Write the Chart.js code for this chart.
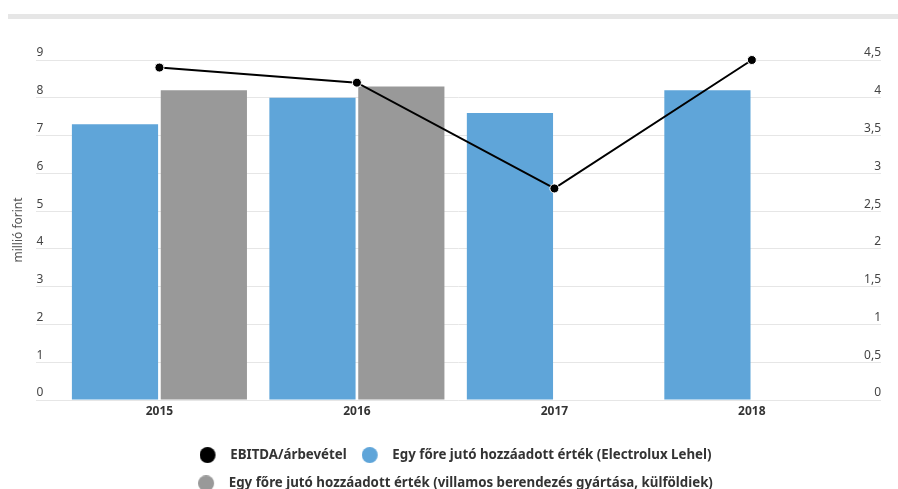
<!DOCTYPE html>
<html>
<head>
<meta charset="utf-8">
<script src="https://cdn.jsdelivr.net/npm/chart.js@4.4.1/dist/chart.umd.min.js"></script>
<style>
  html, body { margin: 0; padding: 0; background: #fff; }
  #wrap { position: relative; width: 898px; height: 489px; }
  #band { position: absolute; left: 8px; top: 14px; width: 890px; height: 5px; background: #e6e6e6; }
  canvas { position: absolute; left: 0; top: 0; }
</style>
</head>
<body>
<div id="wrap">
  <div id="band"></div>
  <canvas id="myChart" width="898" height="489"></canvas>
</div>
<script>
// data
const years = ['2015', '2016', '2017', '2018'];
const ebitdaRatio = [4.4, 4.2, 2.8, 4.5];
const electroluxValue = [7.3, 8.0, 7.6, 8.2];
const industryValue = [8.2, 8.3, null, null];

const colors = ['#000000', '#5fa5d9', '#999999'];

const toPoints = arr => arr.map((v, i) => ({ x: i, y: v }));
const comma = v => String(v).replace('.', ',');

// legend marker: circle on the left, empty room on the right
function legendIcon(color) {
    const c = document.createElement('canvas');
    c.width = 24;
    c.height = 16;
    const g = c.getContext('2d');
    g.fillStyle = color;
    g.beginPath();
    g.arc(8, 8, 8, 0, Math.PI * 2);
    g.fill();
    return c;
}
const icons = colors.map(legendIcon);

const data = {
    datasets: [
        {
            type: 'line',
            label: 'EBITDA/árbevétel',
            data: toPoints(ebitdaRatio),
            yAxisID: 'y1',
            borderColor: colors[0],
            backgroundColor: colors[0],
            borderWidth: 2,
            pointRadius: 4.5,
            pointBorderColor: '#fff',
            pointBorderWidth: 1,
            clip: false,
        },
        {
            label: 'Egy főre jutó hozzáadott érték (Electrolux Lehel)',
            data: toPoints(electroluxValue),
            yAxisID: 'y',
            backgroundColor: colors[1],
            borderWidth: 0,
        },
        {
            label: 'Egy főre jutó hozzáadott érték (villamos berendezés gyártása, külföldiek)',
            data: toPoints(industryValue),
            yAxisID: 'y',
            backgroundColor: colors[2],
            borderWidth: 0,
        },
    ]
}

const config = {
    type: 'bar',
    data,
    options: {
        responsive: false,
        animation: false,
        barPercentage: 0.97,
        categoryPercentage: 0.9,
        layout: {
            // negative right padding + wide right axis keeps the legend centred like the original
            padding: { top: 60, right: -9, left: 4, bottom: -11 }
        },
        plugins: {
            tooltip: { enabled: false },
            legend: {
                position: 'bottom',
                title: {
                    display: true,
                    text: '',
                    padding: { top: 1, bottom: 0 },
                    font: { size: 10, lineHeight: 1 },
                },
                labels: {
                    usePointStyle: true,
                    boxHeight: 13,
                    pointStyleWidth: 24,
                    padding: 15,
                    color: '#333',
                    font: { family: 'Noto Sans', size: 13.3, weight: 'bold' },
                    generateLabels: chart => Chart.defaults.plugins.legend.labels
                        .generateLabels(chart)
                        .map((item, i) => ({ ...item, pointStyle: icons[i] })),
                }
            },
        },
        scales: {
            x: {
                type: 'linear',
                offset: false,
                min: -0.623,
                max: 3.654,
                grid: { display: false, drawTicks: false, offset: false },
                border: { display: false },
                afterBuildTicks: scale => {
                    scale.ticks = years.map((_, i) => ({ value: i }));
                },
                ticks: {
                    padding: 4,
                    color: '#333',
                    font: { family: 'Noto Sans', size: 12, weight: 'bold' },
                    callback: v => years[v],
                },
            },
            y: {
                position: 'left',
                min: 0,
                max: 9,
                grid: { color: '#e6e6e6', drawTicks: false },
                border: { display: false },
                title: {
                    display: true,
                    text: 'millió forint',
                    color: '#555',
                    padding: { top: 7, bottom: 11 },
                    font: { family: 'Noto Sans', size: 12 },
                },
                ticks: {
                    stepSize: 1,
                    mirror: true,
                    padding: 0,
                    labelOffset: -7,
                    color: '#444',
                    font: { family: 'Noto Sans', size: 12 },
                },
            },
            y1: {
                position: 'right',
                min: 0,
                max: 4.5,
                grid: { display: false, drawTicks: false },
                border: { display: false },
                afterFit: scale => { scale.width = 26; },
                ticks: {
                    stepSize: 0.5,
                    mirror: true,
                    padding: 0,
                    labelOffset: -7,
                    color: '#444',
                    font: { family: 'Noto Sans', size: 12 },
                    callback: comma,
                },
            },
        }
    }
}

const ctx = document.getElementById('myChart')
const myChart = new Chart(ctx, config)
</script>
</body>
</html>
